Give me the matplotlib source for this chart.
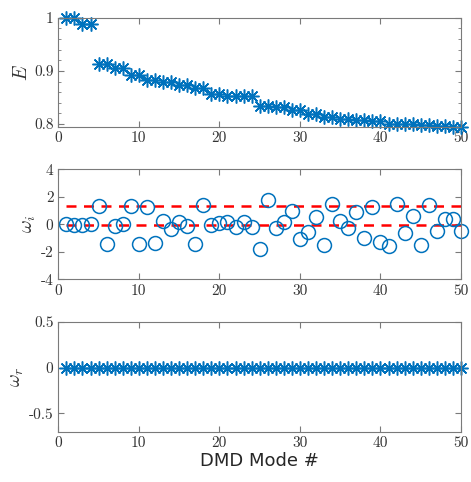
"""DMD mode energy and eigenvalue spectrum (3 stacked panels)."""
import numpy as np
import matplotlib
matplotlib.use("Agg")
import matplotlib.pyplot as plt
from matplotlib.ticker import MultipleLocator

plt.rcParams["mathtext.fontset"] = "cm"
plt.rcParams["axes.unicode_minus"] = False

# data
modes = np.arange(1, 51)
energy = [1.000, 1.000, 0.988, 0.988, 0.913, 0.913, 0.906, 0.906, 0.893, 0.893,
          0.882, 0.882, 0.879, 0.879, 0.873, 0.873, 0.867, 0.867, 0.856, 0.856,
          0.853, 0.853, 0.853, 0.853, 0.834, 0.834, 0.833, 0.833, 0.827, 0.827,
          0.819, 0.819, 0.813, 0.813, 0.809, 0.809, 0.808, 0.808, 0.805, 0.805,
          0.801, 0.801, 0.800, 0.800, 0.798, 0.798, 0.796, 0.796, 0.795, 0.795]
omega_i = [0.00, -0.05, -0.05, 0.00, 1.36, -1.43, -0.12, 0.02, 1.36, -1.43,
           1.28, -1.33, 0.27, -0.34, 0.15, -0.12, -1.43, 1.40, -0.05, 0.07,
           0.19, -0.22, 0.15, -0.22, -1.82, 1.77, -0.24, 0.19, 0.99, -1.09,
           -0.53, 0.51, -1.50, 1.45, 0.24, -0.29, 0.92, -1.02, 1.28, -1.31,
           -1.55, 1.48, -0.61, 0.61, -1.48, 1.40, -0.48, 0.39, 0.41, -0.48]
omega_r = np.zeros(50)
ref_levels = [1.33, -0.03]

BLUE = "#0072BD"
SPINE = "#7a7a7a"
ASTERISK = (8, 2, 0)  # matlab-style '*' marker (8 spokes)


def style_axes(ax, ylabel):
    for s in ax.spines.values():
        s.set_color(SPINE)
        s.set_linewidth(0.8)
    ax.tick_params(which="both", direction="in", top=True, right=True,
                   color=SPINE, labelcolor="#333333")
    ax.tick_params(which="major", length=4)
    ax.tick_params(which="minor", length=2.5)
    ax.set_xlim(0, 50)
    ax.set_xticks(np.arange(0, 51, 10))
    for lab in ax.get_xticklabels() + ax.get_yticklabels():
        lab.set_fontfamily("cmr10")
        lab.set_fontsize(11)
    ax.set_ylabel(ylabel, fontsize=14, color="#333333", labelpad=2)


fig = plt.figure(figsize=(4.71, 4.82), dpi=100)
ax1 = fig.add_axes([0.1238, 0.7371, 0.855, 0.2262])
ax2 = fig.add_axes([0.1238, 0.4205, 0.855, 0.2283])
ax3 = fig.add_axes([0.1238, 0.1044, 0.855, 0.2276])

ax1.plot(modes, energy, ls="none", marker=ASTERISK, ms=10, mew=1.1,
         color=BLUE, clip_on=False)
ax1.set_ylim(0.795, 1.0)
ax1.set_yticks([0.8, 0.9, 1.0])
ax1.set_yticklabels(["0.8", "0.9", "1"])
ax1.yaxis.set_minor_locator(MultipleLocator(0.02))
style_axes(ax1, "$E$")

for lvl in ref_levels:
    ax2.plot([1, 50], [lvl, lvl], ls="--", color="#FF0000", lw=1.8,
             dashes=(4, 3))
ax2.plot(modes, omega_i, ls="none", marker="o", ms=10, mfc="none", mew=1.1,
         color=BLUE, clip_on=False)
ax2.set_ylim(-4, 4)
ax2.set_yticks([-4, -2, 0, 2, 4])
style_axes(ax2, r"$\omega_i$")

ax3.plot(modes, omega_r, ls="none", marker=ASTERISK, ms=10, mew=1.1,
         color=BLUE, clip_on=False)
ax3.set_ylim(-0.7, 0.5)
ax3.set_yticks([-0.5, 0, 0.5])
ax3.set_yticklabels(["-0.5", "0", "0.5"])
style_axes(ax3, r"$\omega_r$")
ax3.set_xlabel("DMD Mode #", fontsize=13, color="#262626", labelpad=1)

fig.savefig("out.png", dpi=100)
